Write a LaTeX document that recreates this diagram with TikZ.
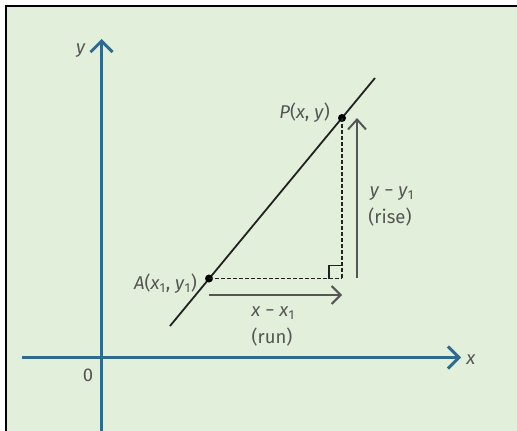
\documentclass[tikz,border=0pt]{standalone}
\usepackage{fontspec}
\setmainfont{Fira Sans}
\usetikzlibrary{arrows.meta,calc}
\definecolor{bg}{HTML}{E2EFDA}
\definecolor{axisblue}{HTML}{2E6B8F}
\definecolor{txt}{HTML}{555555}
\definecolor{linec}{HTML}{222222}
\definecolor{arrc}{HTML}{555555}
\begin{document}
\begin{tikzpicture}[x=1pt,y=-1pt,
  font=\fontsize{18.5}{21}\selectfont,
  axis/.style={axisblue,line width=3pt,-{Straight Barb[length=11pt,width=22pt,line width=3pt]}},
  lbl/.style={text=txt,inner sep=1pt},
  dot/.style={circle,fill=black,inner sep=0pt,minimum size=8pt},
  dashline/.style={linec,line width=1.8pt,dash pattern=on 3.5pt off 2.5pt},
  runarrow/.style={arrc,line width=2pt,-{Straight Barb[length=9pt,width=18pt,line width=2pt]}},
  risearrow/.style={arrc,line width=2.6pt,-{Straight Barb[length=10pt,width=18pt,line width=2pt]}}]
\useasboundingbox (0,0) rectangle (517,431);
\fill[bg] (6,6) rectangle (517,431);
\draw[line width=2.5pt] (6,431) -- (6,6) -- (517,6);
% axes
\coordinate (xl) at (22,357.5);
\coordinate (xr) at (461,357.5);
\coordinate (yb) at (101.5,431);
\coordinate (yt) at (101.5,39);
\draw[axis] (xl) -- (xr);
\draw[axis] (yb) -- (yt);
\node[lbl] (xlab) at (471,360) {\textit{x}};
\node[lbl] (ylab) at (81,51) {\textit{y}};
\node[lbl] (zero) at (88,375) {0};
% line
\coordinate (L1) at (170,326);
\coordinate (L2) at (375,78);
\draw[linec,line width=1.8pt] (L1) -- (L2);
\node[dot] (A) at (209,278.5) {};
\node[dot] (P) at (342,118) {};
\coordinate (C) at (P |- A);
\draw[dashline] (A.center) -- (C);
\draw[dashline] (P.center) -- (C);
\draw[linec,line width=1.5pt] ($(C)+(-13,0)$) -- ++(0,-13) -- ++(13,0);
% run and rise
\coordinate (r1) at (209,295);
\coordinate (r2) at (342,295);
\draw[runarrow] (r1) -- (r2);
\coordinate (s1) at (357,278);
\coordinate (s2) at (357,118);
\draw[risearrow] (s1) -- (s2);
% labels
\node[lbl,anchor=east] (Plab) at (331,113) {\textit{P}(\textit{x}, \textit{y})};
\node[lbl,anchor=east] (Alab) at (198,284) {\textit{A}(\textit{x}\textsubscript{1}, \textit{y}\textsubscript{1})};
\node[lbl] (rise1) at (392,194) {\textit{y} − \textit{y}\textsubscript{1}};
\node[lbl] (rise2) at (390,217) {(rise)};
\node[lbl] (run1) at (273,313) {\textit{x} − \textit{x}\textsubscript{1}};
\node[lbl] (run2) at (272,337) {(run)};
\end{tikzpicture}
\end{document}
